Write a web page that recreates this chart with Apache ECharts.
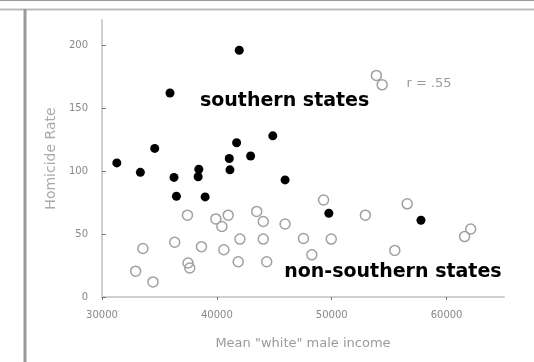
<!DOCTYPE html>
<html><head><meta charset="utf-8">
<script src="https://cdn.jsdelivr.net/npm/echarts@6/dist/echarts.min.js"></script>
<style>html,body{margin:0;padding:0;background:#fff}#c{width:534px;height:362px}</style>
</head><body><div id="c"></div>
<script>
// Southern states (filled markers): [income, homicide rate]
const southernIncome = [41950, 35920, 34590, 31290, 33340, 36270, 38430, 38370, 36480, 38980, 41080, 41140, 41720, 42940, 44870, 45940, 49750, 57770];
const southernRate   = [196, 162, 118, 106.5, 99, 95, 101.5, 95.5, 80, 79.5, 110, 101, 122.5, 112, 128, 93, 66.5, 61];
// Non-southern states (open markers)
const otherIncome = [53890, 54390, 37440, 40990, 43470, 44040, 45940, 40440, 39910, 49290, 52930, 56570, 61570, 62100, 33560, 36330, 38660, 40610, 42010, 44040, 47540, 49960, 55490, 32930, 34440, 37490, 37640, 41860, 44340, 48270];
const otherRate   = [176, 168.5, 65, 65, 68, 60, 58, 56, 62, 77, 65, 74, 48, 54, 38.5, 43.5, 40, 37.5, 46, 46, 46.5, 46, 37, 20.5, 12, 27, 23, 28, 28, 33.5];
// Axis ticks
const xTicks = [30000, 40000, 50000, 60000];
const yTicks = [0, 50, 100, 150, 200];
// Annotations: text, x, y (data units)
const annoText = ['southern states', 'non-southern states', 'r = .55'];
const annoX = [45900, 55330, 58470];
const annoY = [156, 19.8, 169.8];

const chart = echarts.init(document.getElementById('c'), null, {renderer: 'canvas'});
const F = 'DejaVu Sans';
const pair = (xs, ys) => xs.map((x, i) => [x, ys[i]]);
const annoStyles = [
  {fontSize: 19, fontWeight: 'bold', color: '#000'},
  {fontSize: 19, fontWeight: 'bold', color: '#000'},
  {fontSize: 13, fontWeight: 'normal', color: '#9a9a9a'}
];
chart.setOption({
  animation: false,
  backgroundColor: '#fff',
  grid: {left: 102, right: 30, top: 20, bottom: 65},
  xAxis: {
    type: 'value', min: 30000, max: 65000, interval: 10000,
    name: 'Mean "white" male income', nameLocation: 'middle', nameGap: 40,
    nameTextStyle: {fontFamily: F, fontSize: 13, color: '#9a9a9a'},
    splitLine: {show: false},
    axisLine: {lineStyle: {color: '#cfcfcf', width: 2}},
    axisTick: {inside: false, length: 3, lineStyle: {color: '#777'}},
    axisLabel: {showMaxLabel: false, fontFamily: F, fontSize: 10, color: '#888', margin: 13,
      formatter: v => xTicks.includes(v) ? String(v) : ''}
  },
  yAxis: {
    type: 'value', min: 0, max: 220, interval: 50,
    name: 'Homicide Rate', nameLocation: 'middle', nameGap: 42, nameRotate: 90,
    nameTextStyle: {fontFamily: F, fontSize: 14, color: '#aaa'},
    splitLine: {show: false},
    axisLine: {show: true, lineStyle: {color: '#cfcfcf', width: 2}},
    axisTick: {show: true, inside: true, length: 4, lineStyle: {color: '#777'}},
    axisLabel: {showMaxLabel: false, fontFamily: F, fontSize: 10, color: '#888', margin: 14,
      formatter: v => yTicks.includes(v) ? String(v) : ''}
  },
  series: [
    {type: 'scatter', data: pair(otherIncome, otherRate), symbol: 'circle', symbolSize: 10,
     itemStyle: {color: 'rgba(255,255,255,0)', borderColor: '#a0a0a0', borderWidth: 1.5, opacity: 1}, z: 2},
    {type: 'scatter', data: pair(southernIncome, southernRate), symbol: 'circle', symbolSize: 9,
     itemStyle: {color: '#000', opacity: 1}, z: 3},
    {type: 'scatter', symbolSize: 0, silent: true, z: 5, itemStyle: {opacity: 1},
     data: annoText.map((t, i) => ({value: [annoX[i], annoY[i]], name: t, label: annoStyles[i]})),
     label: {show: true, position: 'inside', formatter: p => p.name, fontFamily: F}}
  ],
  graphic: [
    {type: 'line', shape: {x1: 0, y1: 0.5, x2: 534, y2: 0.5}, style: {stroke: '#999', lineWidth: 1}},
    {type: 'line', shape: {x1: 0, y1: 9.5, x2: 534, y2: 9.5}, style: {stroke: '#bbb', lineWidth: 2}},
    {type: 'line', shape: {x1: 25, y1: 9, x2: 25, y2: 362}, style: {stroke: '#999', lineWidth: 3}}
  ]
});
</script></body></html>
